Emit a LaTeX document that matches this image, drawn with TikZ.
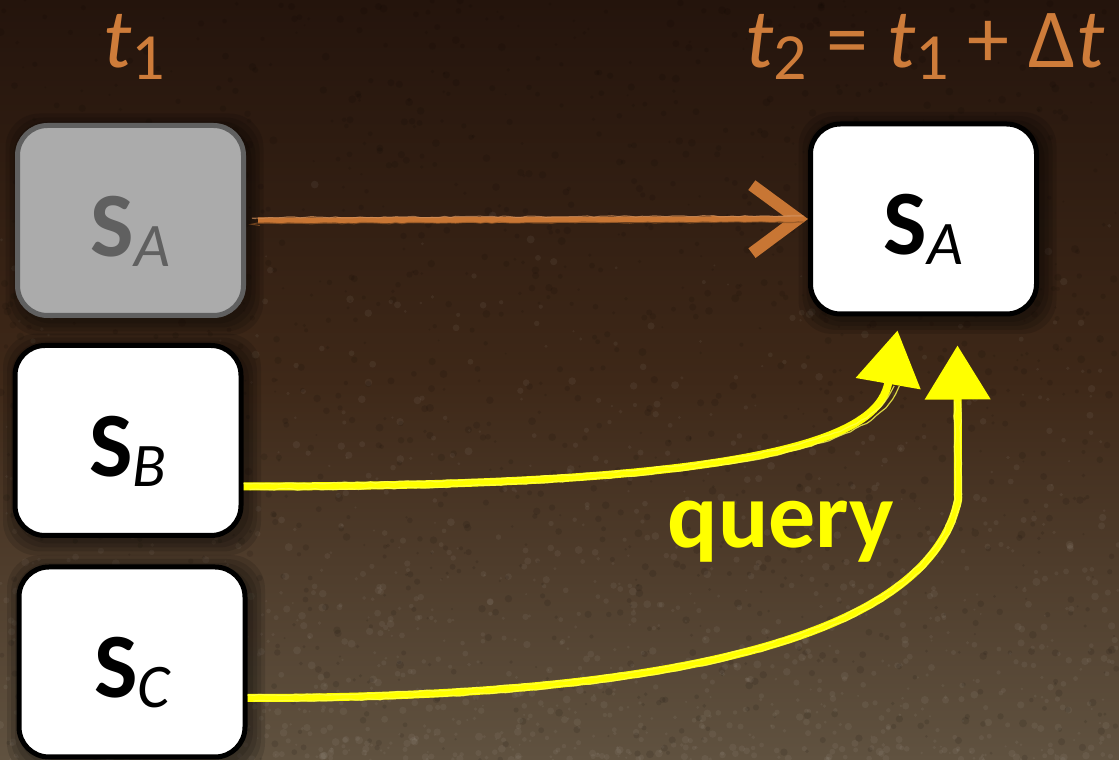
\documentclass[tikz,border=0pt]{standalone}
\usepackage{fontspec}
\setmainfont{Carlito}
\usetikzlibrary{arrows.meta,decorations.pathmorphing,calc}
\definecolor{bgtop}{RGB}{36,20,12}
\definecolor{bgmid}{RGB}{62,40,24}
\definecolor{bgbot}{RGB}{96,82,64}
\definecolor{tcol}{RGB}{206,124,58}
\definecolor{acol}{RGB}{200,118,52}
\definecolor{qcol}{RGB}{255,255,0}
\definecolor{gfill}{RGB}{171,171,171}
\definecolor{gline}{RGB}{96,96,96}
\newcommand\statelab[1]{{\fontsize{92}{92}\selectfont\bfseries S}\raisebox{-10pt}{\fontsize{62}{62}\selectfont\itshape #1}}
\newcommand\tsub[1]{\raisebox{-12pt}{\fontsize{66}{66}\selectfont #1}}
\begin{document}
\begin{tikzpicture}[x=1pt,y=1pt,
  box/.style={draw=black, line width=5pt, fill=white, rounded corners=30pt,
    minimum width=226pt, minimum height=190pt, inner sep=0pt},
  greybox/.style={box, draw=gline, fill=gfill},
  lab/.style={inner sep=0pt, anchor=base},
  tlab/.style={inner sep=0pt, anchor=base, text=tcol, font=\fontsize{84}{84}\selectfont},
  sketch/.style={decorate, decoration={random steps, segment length=6pt, amplitude=0.8pt}},
  qarrow/.style={draw=qcol, line width=8pt, -{Triangle[length=54pt,width=64pt]}},
  qthin/.style={draw=qcol!70!white, line width=1.2pt, opacity=0.8},
]
% background
\useasboundingbox (0,0) rectangle (1119,760);
\shade[top color=bgtop, bottom color=bgbot, middle color=bgmid] (0,0) rectangle (1119,760);
\pgfmathsetseed{11}
\foreach \i in {1,...,1400}{
  \pgfmathsetmacro\xx{rnd*1119}
  \pgfmathsetmacro\yy{rnd*rnd*600}
  \pgfmathsetmacro\rr{1+rnd*3}
  \fill[white, opacity=0.05] (\xx,\yy) circle (\rr);
}
\foreach \i in {1,...,1400}{
  \pgfmathsetmacro\xx{rnd*1119}
  \pgfmathsetmacro\yy{rnd*760}
  \pgfmathsetmacro\rr{1+rnd*3}
  \fill[black, opacity=0.1] (\xx,\yy) circle (\rr);
}
% box shadows
\foreach \c in {{130.5,539.5},{128,319.5},{132,98},{923.5,541}}{
  \foreach \s in {16,12,8,4}{
    \fill[black, opacity=0.12, rounded corners=34pt] ($(\c)+(-113-\s+4,-95-\s-4)$) rectangle ($(\c)+(113+\s+4,95+\s-4)$);
  }
}
% boxes
\node[greybox] (gA) at (130.5,539.5) {};
\node[box] (bB) at (128,319.5) {};
\node[box] (bC) at (132,98) {};
\node[box] (aA) at (923.5,541) {};
\node[lab, text=gline] (lgA) at ($(gA.center)+(0,-36)$) {\statelab{A}};
\node[lab] (lbB) at ($(bB.center)+(0,-36)$) {\statelab{B}};
\node[lab] (lbC) at ($(bC.center)+(0,-36)$) {\statelab{C}};
\node[lab] (laA) at ($(aA.center)+(0,-36)$) {\statelab{A}};
% time labels
\node[tlab] (t1) at (134,692) {{\itshape t}\tsub{1}};
\node[tlab] (t2) at (925,692) {{\itshape t}\tsub{2} = {\itshape t}\tsub{1} + Δ{\itshape t}};
% orange arrow
\draw[acol, line width=6pt, shorten <=12pt, -{Straight Barb[length=46pt,width=68pt,line width=12pt]}] (gA.east) -- (aA.west);
\draw[acol!80!white, line width=1pt, sketch, opacity=0.7, shorten <=10pt, shorten >=30pt] ($(gA.east)+(0,3)$) -- ($(aA.west)+(0,3)$);
\draw[acol!70!black, line width=1pt, sketch, opacity=0.7, shorten <=14pt, shorten >=30pt] ($(gA.east)+(0,-3)$) -- ($(aA.west)+(0,-3)$);
% yellow arrows
\coordinate (tipB) at ($(aA.south)+(-26,-14)$);
\coordinate (tipC) at ($(aA.south)+(34,-29)$);
\coordinate (bendC) at (958,260);
\path[qarrow] ($(bB.east)+(0,-46)$) .. controls (800,273) and (880,330) .. (tipB);
\draw[qthin, sketch] ($(bB.east)+(0,-43)$) .. controls (800,276) and (877,332) .. ($(tipB)+(-4,-56)$);
\draw[qthin, sketch] ($(bB.east)+(6,-49)$) .. controls (800,270) and (883,328) .. ($(tipB)+(1,-56)$);
\path[qarrow] ($(bC.east)+(0,-36)$) .. controls (760,62) and (935,150) .. (bendC) -- (tipC);
\draw[qthin, sketch] ($(bC.east)+(0,-33)$) .. controls (760,65) and (932,152) .. ($(bendC)+(-3,0)$) -- ($(tipC)+(-3,-56)$);
\draw[qthin, sketch] ($(bC.east)+(6,-39)$) .. controls (760,59) and (938,148) .. ($(bendC)+(3,0)$) -- ($(tipC)+(3,-56)$);
% query label
\node[lab, text=qcol, font=\fontsize{94}{94}\selectfont\bfseries] (q) at (781,212) {query};
\end{tikzpicture}
\end{document}
